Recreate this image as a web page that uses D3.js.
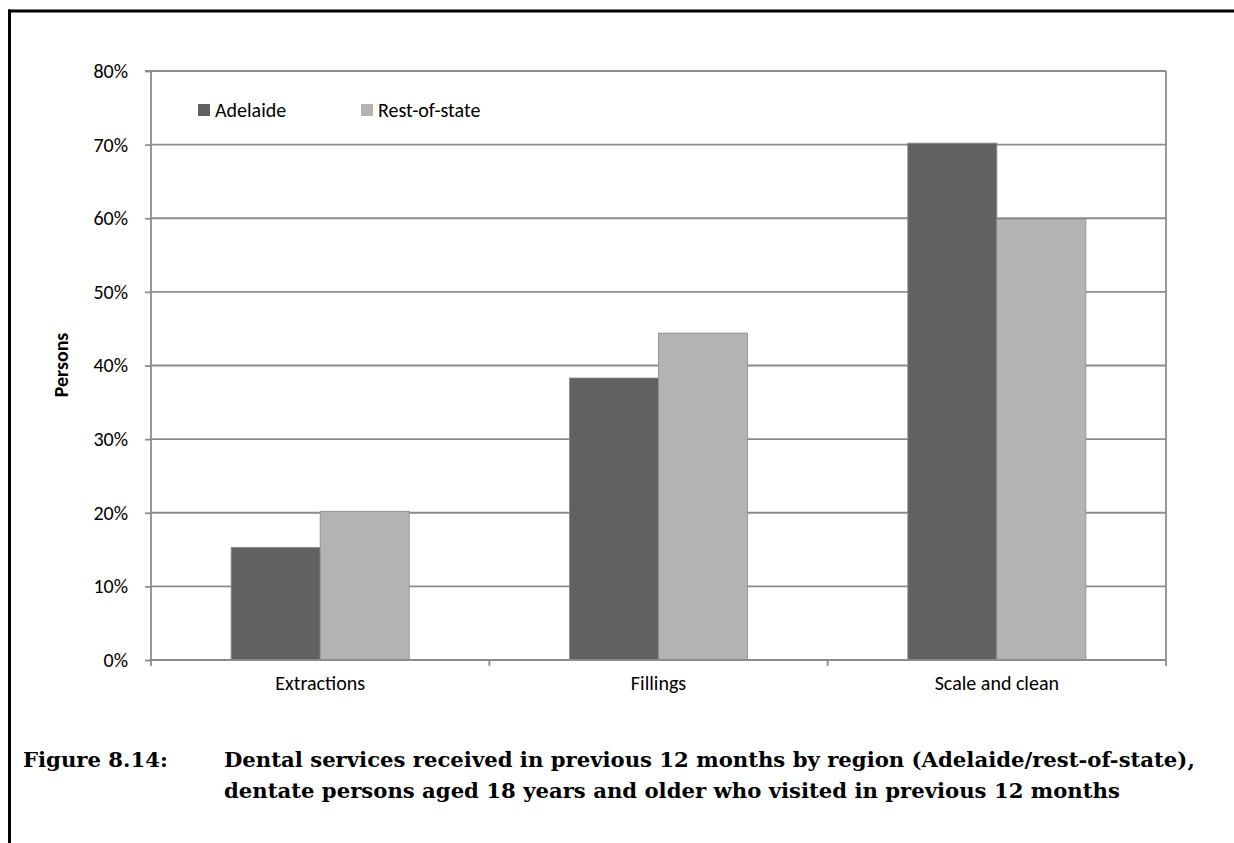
<!DOCTYPE html>
<html><head><meta charset="utf-8">
<script src="https://cdn.jsdelivr.net/npm/d3@7"></script>
<style>
html,body{margin:0;padding:0;background:#fff;}
svg{display:block;}
</style></head>
<body>
<script>
const categories = ["Extractions", "Fillings", "Scale and clean"];
const seriesNames = ["Adelaide", "Rest-of-state"];
const adelaide = [15.3, 38.3, 70.2];
const restOfState = [20.2, 44.4, 59.9];
const yTicks = [0, 10, 20, 30, 40, 50, 60, 70, 80];
const colors = ["#616161", "#b3b3b3"];
const captionLabel = "Figure 8.14:";
const captionLines = ["Dental services received in previous 12 months by region (Adelaide/rest-of-state),",
                      "dentate persons aged 18 years and older who visited in previous 12 months"];

const W = 1234, H = 843;
const svg = d3.select("body").append("svg").attr("width", W).attr("height", H);
const font = "Carlito, Calibri, 'Open Sans', sans-serif";
const fs = 20;

// outer frame
svg.append("line").attr("x1", 8).attr("x2", W).attr("y1", 11).attr("y2", 11).attr("stroke", "#000").attr("stroke-width", 3);
svg.append("line").attr("x1", 9.5).attr("x2", 9.5).attr("y1", 9.5).attr("y2", H).attr("stroke", "#000").attr("stroke-width", 3);

const L = 151, R = 1166, T = 71, B = 660;
const x0 = d3.scaleBand().domain(categories).range([L, R]).paddingInner(0).paddingOuter(0);
const x1 = d3.scaleBand().domain(seriesNames).range([0, x0.bandwidth()]).paddingInner(0).paddingOuter(0.9);
const y = d3.scaleLinear().domain([0, 80]).range([B, T]);

// gridlines
svg.append("g").selectAll("line").data(yTicks.filter(d => d > 0)).join("line")
  .attr("x1", L).attr("x2", R).attr("y1", d => y(d)).attr("y2", d => y(d))
  .attr("stroke", "#8c8c8c").attr("stroke-width", 1.8);
// plot border right
svg.append("line").attr("x1", R).attr("x2", R).attr("y1", T).attr("y2", B).attr("stroke", "#8c8c8c").attr("stroke-width", 1.8);

const data = categories.map((c, i) => ({cat: c, vals: [
  {s: seriesNames[0], v: adelaide[i], c: colors[0]},
  {s: seriesNames[1], v: restOfState[i], c: colors[1]}]}));

const groups = svg.append("g").selectAll("g").data(data).join("g")
  .attr("transform", d => `translate(${x0(d.cat)},0)`);
groups.selectAll("rect").data(d => d.vals).join("rect")
  .attr("x", d => x1(d.s)).attr("width", x1.bandwidth())
  .attr("y", d => y(d.v)).attr("height", d => B - y(d.v))
  .attr("fill", d => d.c).attr("stroke", "#8a8a8a").attr("stroke-width", 0.8);

// y axis
const yAxis = d3.axisLeft(y).tickValues(yTicks).tickSize(6).tickPadding(17).tickFormat(d => d + "%");
const ya = svg.append("g").attr("transform", `translate(${L},0)`).call(yAxis);
ya.select(".domain").attr("stroke", "#8c8c8c").attr("stroke-width", 1.8).attr("d", `M-6,${T}H0V${B}`);
ya.selectAll(".tick line").attr("stroke", "#8c8c8c").attr("stroke-width", 1.8);
ya.selectAll(".tick text").attr("font-family", font).attr("font-size", fs).attr("fill", "#000");

// x axis
const xAxis = d3.axisBottom(x0).tickSize(0).tickPadding(16);
const xa = svg.append("g").attr("transform", `translate(0,${B})`).call(xAxis);
xa.select(".domain").attr("stroke", "#8c8c8c").attr("stroke-width", 1.8).attr("d", `M${L},0H${R}`);
xa.selectAll(".tick text").attr("font-family", font).attr("font-size", fs).attr("fill", "#000");
const boundaries = [0, 1, 2, 3].map(i => L + i * x0.step());
xa.append("g").selectAll("line").data(boundaries).join("line")
  .attr("x1", d => d).attr("x2", d => d).attr("y1", 0).attr("y2", 6)
  .attr("stroke", "#8c8c8c").attr("stroke-width", 1.8);

// y axis title
svg.append("text").attr("transform", "translate(68,365) rotate(-90)")
  .attr("text-anchor", "middle").attr("font-family", font).attr("font-weight", "bold")
  .attr("font-size", fs).text("Persons");

// legend
const leg = svg.append("g");
const legX = [198, 361];
seriesNames.forEach((s, i) => {
  leg.append("rect").attr("x", legX[i]).attr("y", 104).attr("width", 12).attr("height", 12).attr("fill", colors[i]);
  leg.append("text").attr("x", legX[i] + 17).attr("y", 116.5).attr("font-family", font).attr("font-size", fs).text(s);
});

// caption
const capFont = "'Book Antiqua', Palatino, 'DejaVu Serif', serif";
const capFs = 21.2;
svg.append("text").attr("x", 23).attr("y", 767).attr("font-family", capFont).attr("font-weight", "bold")
  .attr("font-size", capFs).text(captionLabel);
captionLines.forEach((t, i) => {
  svg.append("text").attr("x", 224).attr("y", 767 + i * 31).attr("font-family", capFont).attr("font-weight", "bold")
    .attr("font-size", capFs).text(t);
});
</script>
</body></html>
